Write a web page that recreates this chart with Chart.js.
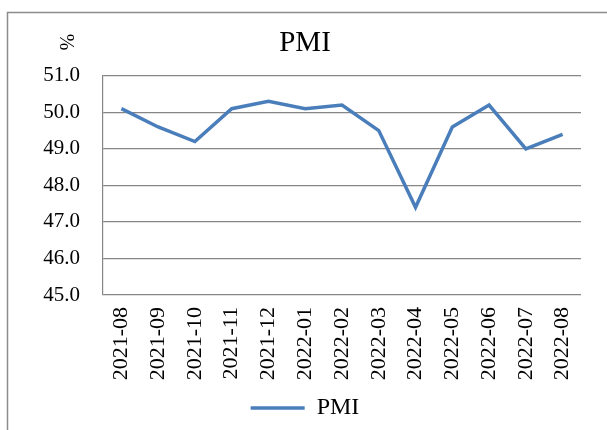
<!DOCTYPE html>
<html>
<head>
<meta charset="utf-8">
<script src="https://cdn.jsdelivr.net/npm/chart.js@4/dist/chart.umd.min.js"></script>
<style>
  html, body { margin: 0; padding: 0; background: #fff; }
  #wrap { width: 607px; height: 430px; }
</style>
</head>
<body>
<div id="wrap"><canvas id="pmiChart" width="607" height="430"></canvas></div>
<script>
const months = ['2021-08', '2021-09', '2021-10', '2021-11', '2021-12', '2022-01', '2022-02',
    '2022-03', '2022-04', '2022-05', '2022-06', '2022-07', '2022-08'];
const pmiValues = [50.1, 49.6, 49.2, 50.1, 50.3, 50.1, 50.2, 49.5, 47.4, 49.6, 50.2, 49.0, 49.4];
const yMin = 45;
const yMax = 51;

const serif = '"Liberation Serif", "Times New Roman", serif';
const gridGray = '#868686';

// frame round the chart and the rotated % unit
const extras = {
    id: 'extras',
    beforeDraw(chart) {
        const ctx = chart.ctx;
        ctx.save();
        ctx.fillStyle = '#fff';
        ctx.fillRect(0, 0, chart.width, chart.height);
        ctx.strokeStyle = '#8c8c8c';
        ctx.lineWidth = 1.5;
        ctx.beginPath();
        ctx.moveTo(7.5, chart.height + 5);
        ctx.lineTo(7.5, 12.5);
        ctx.lineTo(chart.width + 5, 12.5);
        ctx.stroke();
        ctx.restore();
    },
    afterDraw(chart) {
        const ctx = chart.ctx;
        ctx.save();
        ctx.translate(65, 42);
        ctx.rotate(Math.PI / 2);
        ctx.font = '20px ' + serif;
        ctx.fillStyle = '#000';
        ctx.textAlign = 'center';
        ctx.textBaseline = 'middle';
        ctx.fillText('%', 0, 0);
        ctx.restore();
    }
};

new Chart(document.getElementById('pmiChart'), {
    type: 'line',
    data: {
        labels: months,
        datasets: [{
            label: 'PMI',
            data: pmiValues,
            borderColor: '#4A7EBB',
            backgroundColor: '#4A7EBB',
            borderWidth: 3.5,
            pointRadius: 0,
            tension: 0,
            fill: false
        }]
    },
    options: {
        responsive: false,
        animation: false,
        layout: { padding: { left: 3, right: 0, top: 12, bottom: 0 } },
        plugins: {
            title: {
                display: true,
                text: 'PMI',
                color: '#000',
                font: { family: serif, size: 29, weight: 'normal' },
                padding: { top: 14, bottom: 15 }
            },
            legend: {
                position: 'bottom',
                labels: {
                    color: '#000',
                    font: { family: serif, size: 24 },
                    usePointStyle: true,
                    pointStyle: 'line',
                    pointStyleWidth: 54,
                    padding: 6
                }
            },
            tooltip: { enabled: false }
        },
        scales: {
            x: {
                offset: true,
                grid: { display: false, drawTicks: false },
                border: { display: false },
                ticks: {
                    color: '#000',
                    font: { family: serif, size: 22 },
                    minRotation: 90,
                    maxRotation: 90,
                    autoSkip: false,
                    padding: 12
                },
                afterFit: (s) => { s.height = 95; }
            },
            y: {
                min: yMin,
                max: yMax,
                grid: { color: gridGray, lineWidth: 1.2, drawTicks: false },
                border: { display: true, color: gridGray, width: 1.2 },
                ticks: {
                    stepSize: 1,
                    color: '#000',
                    font: { family: serif, size: 21 },
                    padding: 23,
                    callback: (v) => v.toFixed(1)
                },
                afterFit: (s) => { s.width = 100; }
            },
            yRight: {
                position: 'right',
                grid: { display: false },
                border: { display: false },
                ticks: { display: false },
                afterFit: (s) => { s.width = 26; }
            }
        }
    },
    plugins: [extras]
});
</script>
</body>
</html>
